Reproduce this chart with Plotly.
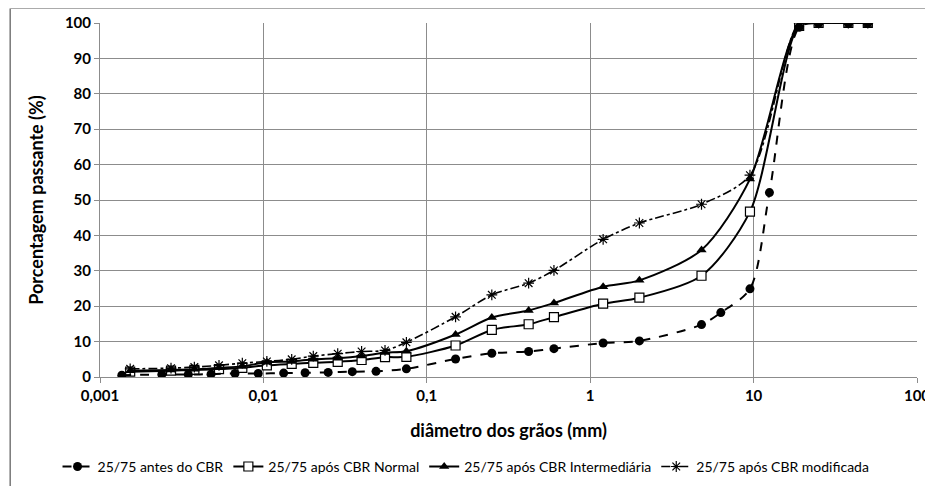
import plotly.graph_objects as go

# ---- data ----
d_antes = [0.00136, 0.00239, 0.00347, 0.00478, 0.0067, 0.0093, 0.0133, 0.018, 0.0249, 0.035, 0.0489,
           0.075, 0.15, 0.25, 0.42, 0.6, 1.2, 2.0, 4.8, 6.3, 9.5, 12.5, 19, 25, 38, 50]
p_antes = [0.5, 0.7, 0.7, 0.8, 1.0, 1.0, 1.1, 1.2, 1.3, 1.5, 1.6,
           2.3, 5.1, 6.7, 7.2, 8.0, 9.6, 10.2, 14.8, 18.2, 24.9, 52.1, 98.8, 100, 100, 100]

d_ensaio = [0.00153, 0.00272, 0.00378, 0.00535, 0.00743, 0.0105, 0.0149, 0.0202, 0.0285, 0.0399, 0.0555,
            0.075, 0.15, 0.25, 0.42, 0.6, 1.2, 2.0, 4.8, 9.5, 19, 25, 38, 50]
p_normal = [1.5, 1.8, 2.0, 2.2, 2.6, 3.3, 3.7, 4.0, 4.3, 4.8, 5.6,
            5.7, 8.9, 13.3, 14.9, 16.9, 20.7, 22.4, 28.6, 46.7, 99.2, 100, 100, 100]
p_inter = [1.8, 2.0, 2.2, 2.6, 3.0, 4.2, 4.4, 5.0, 5.3, 5.9, 6.9,
           7.3, 12.0, 16.8, 18.8, 20.9, 25.5, 27.3, 35.9, 55.9, 99.5, 100, 100, 100]
p_modif = [2.3, 2.5, 2.8, 3.3, 3.9, 4.4, 5.0, 5.9, 6.6, 7.2, 7.5,
           9.8, 17.0, 23.2, 26.5, 30.1, 38.9, 43.5, 48.8, 57.0, 100, 100, 100, 100]

names = ["25/75 antes do CBR", "25/75 após CBR Normal",
         "25/75 após CBR Intermediária", "25/75 após CBR modificada"]

tick_vals = [0.001, 0.01, 0.1, 1, 10, 100]
tick_text = ["0,001", "0,01", "0,1", "1", "10", "100"]

FONT = "Lato"

fig = go.Figure()
fig.add_trace(go.Scatter(
    x=d_ensaio, y=p_normal, name=names[1], mode="lines+markers", legendrank=2,
    line=dict(color="black", width=2, shape="spline", smoothing=0.8),
    marker=dict(symbol="square", size=9, color="white", line=dict(color="black", width=1.2))))
fig.add_trace(go.Scatter(
    x=d_antes, y=p_antes, name=names[0], mode="lines+markers", legendrank=1,
    line=dict(color="black", width=2, dash="dash", shape="spline", smoothing=0.8),
    marker=dict(symbol="circle", size=9, color="black")))
fig.add_trace(go.Scatter(
    x=d_ensaio, y=p_inter, name=names[2], mode="lines+markers", legendrank=3,
    line=dict(color="black", width=2, shape="spline", smoothing=0.8),
    marker=dict(symbol="triangle-up", size=9, color="black")))
fig.add_trace(go.Scatter(
    x=d_ensaio, y=p_modif, name=names[3], mode="lines+markers", legendrank=4,
    line=dict(color="black", width=1.6, dash="dashdot", shape="spline", smoothing=0.8),
    marker=dict(symbol="asterisk-open", size=9, color="black", line=dict(color="black", width=1.2))))

fig.update_layout(
    width=925, height=478,
    margin=dict(l=92, r=16, t=15, b=109, autoexpand=False),
    paper_bgcolor="white", plot_bgcolor="white",
    font=dict(family=FONT, color="black"),
    showlegend=True,
    legend=dict(orientation="h", x=0.448, xanchor="center", y=-0.254, yanchor="middle",
                font=dict(family=FONT, size=14, color="black"), itemwidth=30,
                tracegroupgap=0, bgcolor="rgba(0,0,0,0)"),
    xaxis=dict(type="log", range=[-3, 2], tickvals=tick_vals, ticktext=tick_text,
               automargin=False,
               showgrid=True, gridcolor="#8c8c8c", gridwidth=1,
               showline=True, linecolor="#8c8c8c", linewidth=1,
               ticks="outside", ticklen=5, tickcolor="#8c8c8c",
               tickfont=dict(family=FONT, size=15, weight="bold"),
               title=dict(text="diâmetro dos grãos (mm)", standoff=21,
                          font=dict(family=FONT, size=18, weight="bold")),
               zeroline=False, mirror=False),
    yaxis=dict(range=[0, 100], dtick=10, automargin=False,
               showgrid=True, gridcolor="#8c8c8c", gridwidth=1,
               showline=True, linecolor="#8c8c8c", linewidth=1,
               ticks="outside", ticklen=5, tickcolor="#8c8c8c",
               tickfont=dict(family=FONT, size=15, weight="bold"),
               title=dict(text="Porcentagem passante (%)", standoff=16,
                          font=dict(family=FONT, size=18, weight="bold")),
               zeroline=False),
    shapes=[
        dict(type="line", xref="paper", yref="paper", x0=-0.110, x1=-0.110, y0=-0.32, y1=1.041,
             line=dict(color="#333333", width=1)),
        dict(type="line", xref="paper", yref="paper", x0=-0.110, x1=1.03, y0=1.041, y1=1.041,
             line=dict(color="#aaaaaa", width=1)),
    ],
)

fig.write_html("out.html")
